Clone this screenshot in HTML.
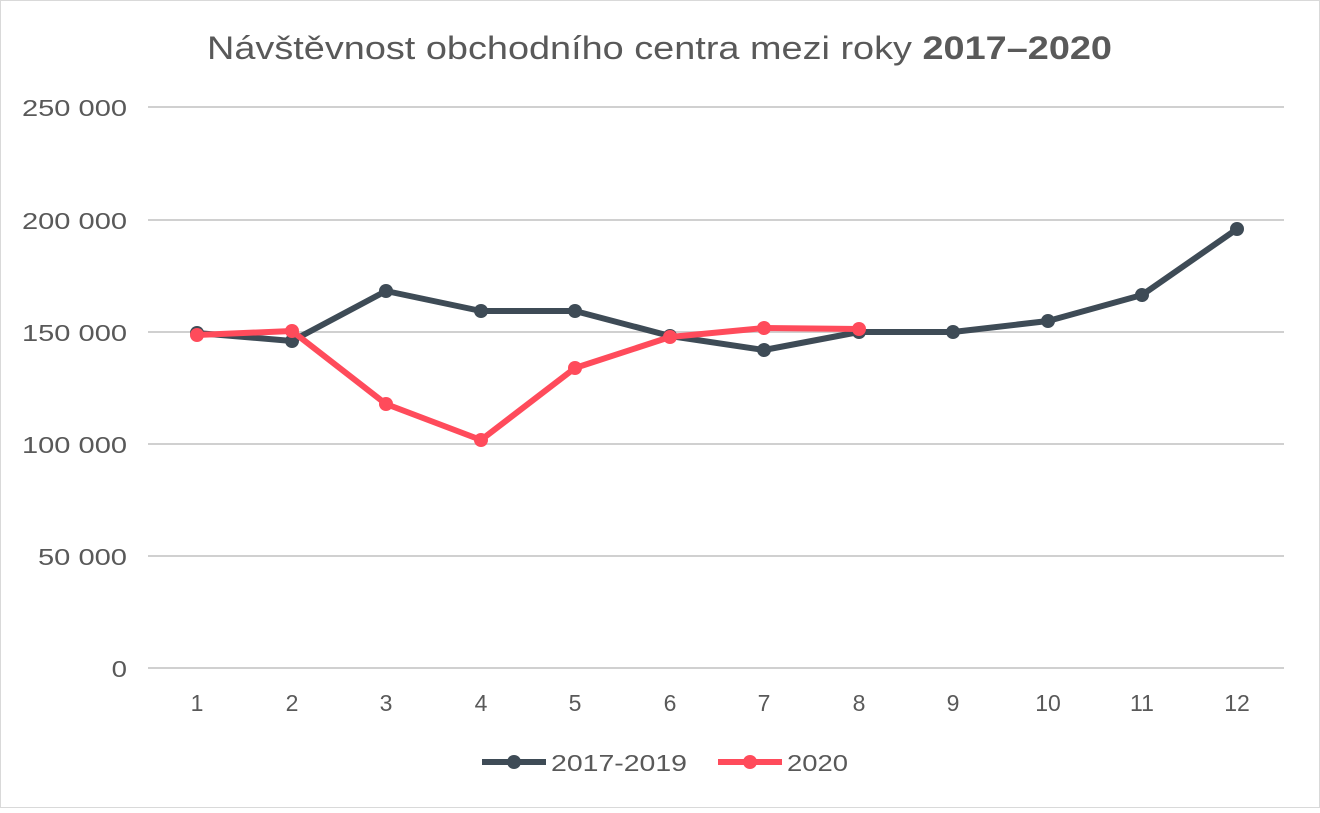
<!DOCTYPE html>
<html><head><meta charset="utf-8"><style>
html,body{margin:0;padding:0;background:#fff}
body{width:1320px;height:808px;overflow:hidden}
</style></head><body>
<svg width="1320" height="808" viewBox="0 0 1320 808" xmlns="http://www.w3.org/2000/svg" font-family="Liberation Sans, Arial, sans-serif">
<rect x="0.5" y="0.5" width="1319" height="807" fill="#fff" stroke="#d9d9d9"/>
<text x="207" y="59" font-size="32" fill="#595959" textLength="905" lengthAdjust="spacingAndGlyphs">Návštěvnost obchodního centra mezi roky <tspan font-weight="bold">2017–2020</tspan></text>
<g stroke="#d0d0d0" stroke-width="2">
<line x1="148" y1="107" x2="1284" y2="107"/>
<line x1="148" y1="220" x2="1284" y2="220"/>
<line x1="148" y1="332" x2="1284" y2="332"/>
<line x1="148" y1="444" x2="1284" y2="444"/>
<line x1="148" y1="556" x2="1284" y2="556"/>
<line x1="148" y1="668" x2="1284" y2="668"/>
</g>
<g font-size="23" fill="#595959">
<text x="22" y="116" textLength="105" lengthAdjust="spacingAndGlyphs">250 000</text>
<text x="22" y="229" textLength="105" lengthAdjust="spacingAndGlyphs">200 000</text>
<text x="22" y="341" textLength="105" lengthAdjust="spacingAndGlyphs">150 000</text>
<text x="22" y="453" textLength="105" lengthAdjust="spacingAndGlyphs">100 000</text>
<text x="38" y="565" textLength="89" lengthAdjust="spacingAndGlyphs">50 000</text>
<text x="127" y="677" text-anchor="end" transform="translate(127 0) scale(1.2 1) translate(-127 0)">0</text>
</g>
<g font-size="23" fill="#595959" text-anchor="middle">
<text x="197" y="711">1</text><text x="292" y="711">2</text><text x="386" y="711">3</text><text x="481" y="711">4</text><text x="575" y="711">5</text><text x="670" y="711">6</text><text x="764" y="711">7</text><text x="859" y="711">8</text><text x="953" y="711">9</text><text x="1048" y="711">10</text><text x="1142" y="711">11</text><text x="1237" y="711">12</text>
</g>
<g stroke="#3e4b56" stroke-width="6" fill="none" stroke-linejoin="round">
<polyline points="197,333 292,341 386,291 481,311 575,311 670,336 764,350 859,332 953,332 1048,321 1142,295 1237,229"/>
</g>
<g fill="#3e4b56">
<circle cx="197" cy="333" r="7"/><circle cx="292" cy="341" r="7"/><circle cx="386" cy="291" r="7"/><circle cx="481" cy="311" r="7"/><circle cx="575" cy="311" r="7"/><circle cx="670" cy="336" r="7"/><circle cx="764" cy="350" r="7"/><circle cx="859" cy="332" r="7"/><circle cx="953" cy="332" r="7"/><circle cx="1048" cy="321" r="7"/><circle cx="1142" cy="295" r="7"/><circle cx="1237" cy="229" r="7"/>
</g>
<g stroke="#ff4b5b" stroke-width="6" fill="none" stroke-linejoin="round">
<polyline points="197,335 292,331 386,404 481,440 575,368 670,337 764,328 859,329"/>
</g>
<g fill="#ff4b5b">
<circle cx="197" cy="335" r="7"/><circle cx="292" cy="331" r="7"/><circle cx="386" cy="404" r="7"/><circle cx="481" cy="440" r="7"/><circle cx="575" cy="368" r="7"/><circle cx="670" cy="337" r="7"/><circle cx="764" cy="328" r="7"/><circle cx="859" cy="329" r="7"/>
</g>
<line x1="482" y1="762" x2="546" y2="762" stroke="#3e4b56" stroke-width="6"/>
<circle cx="514" cy="762" r="7" fill="#3e4b56"/>
<text x="551" y="771" font-size="23" fill="#595959" textLength="136" lengthAdjust="spacingAndGlyphs">2017-2019</text>
<line x1="718" y1="762" x2="782" y2="762" stroke="#ff4b5b" stroke-width="6"/>
<circle cx="750" cy="762" r="7" fill="#ff4b5b"/>
<text x="787" y="771" font-size="23" fill="#595959" textLength="61" lengthAdjust="spacingAndGlyphs">2020</text>
</svg>
</body></html>
